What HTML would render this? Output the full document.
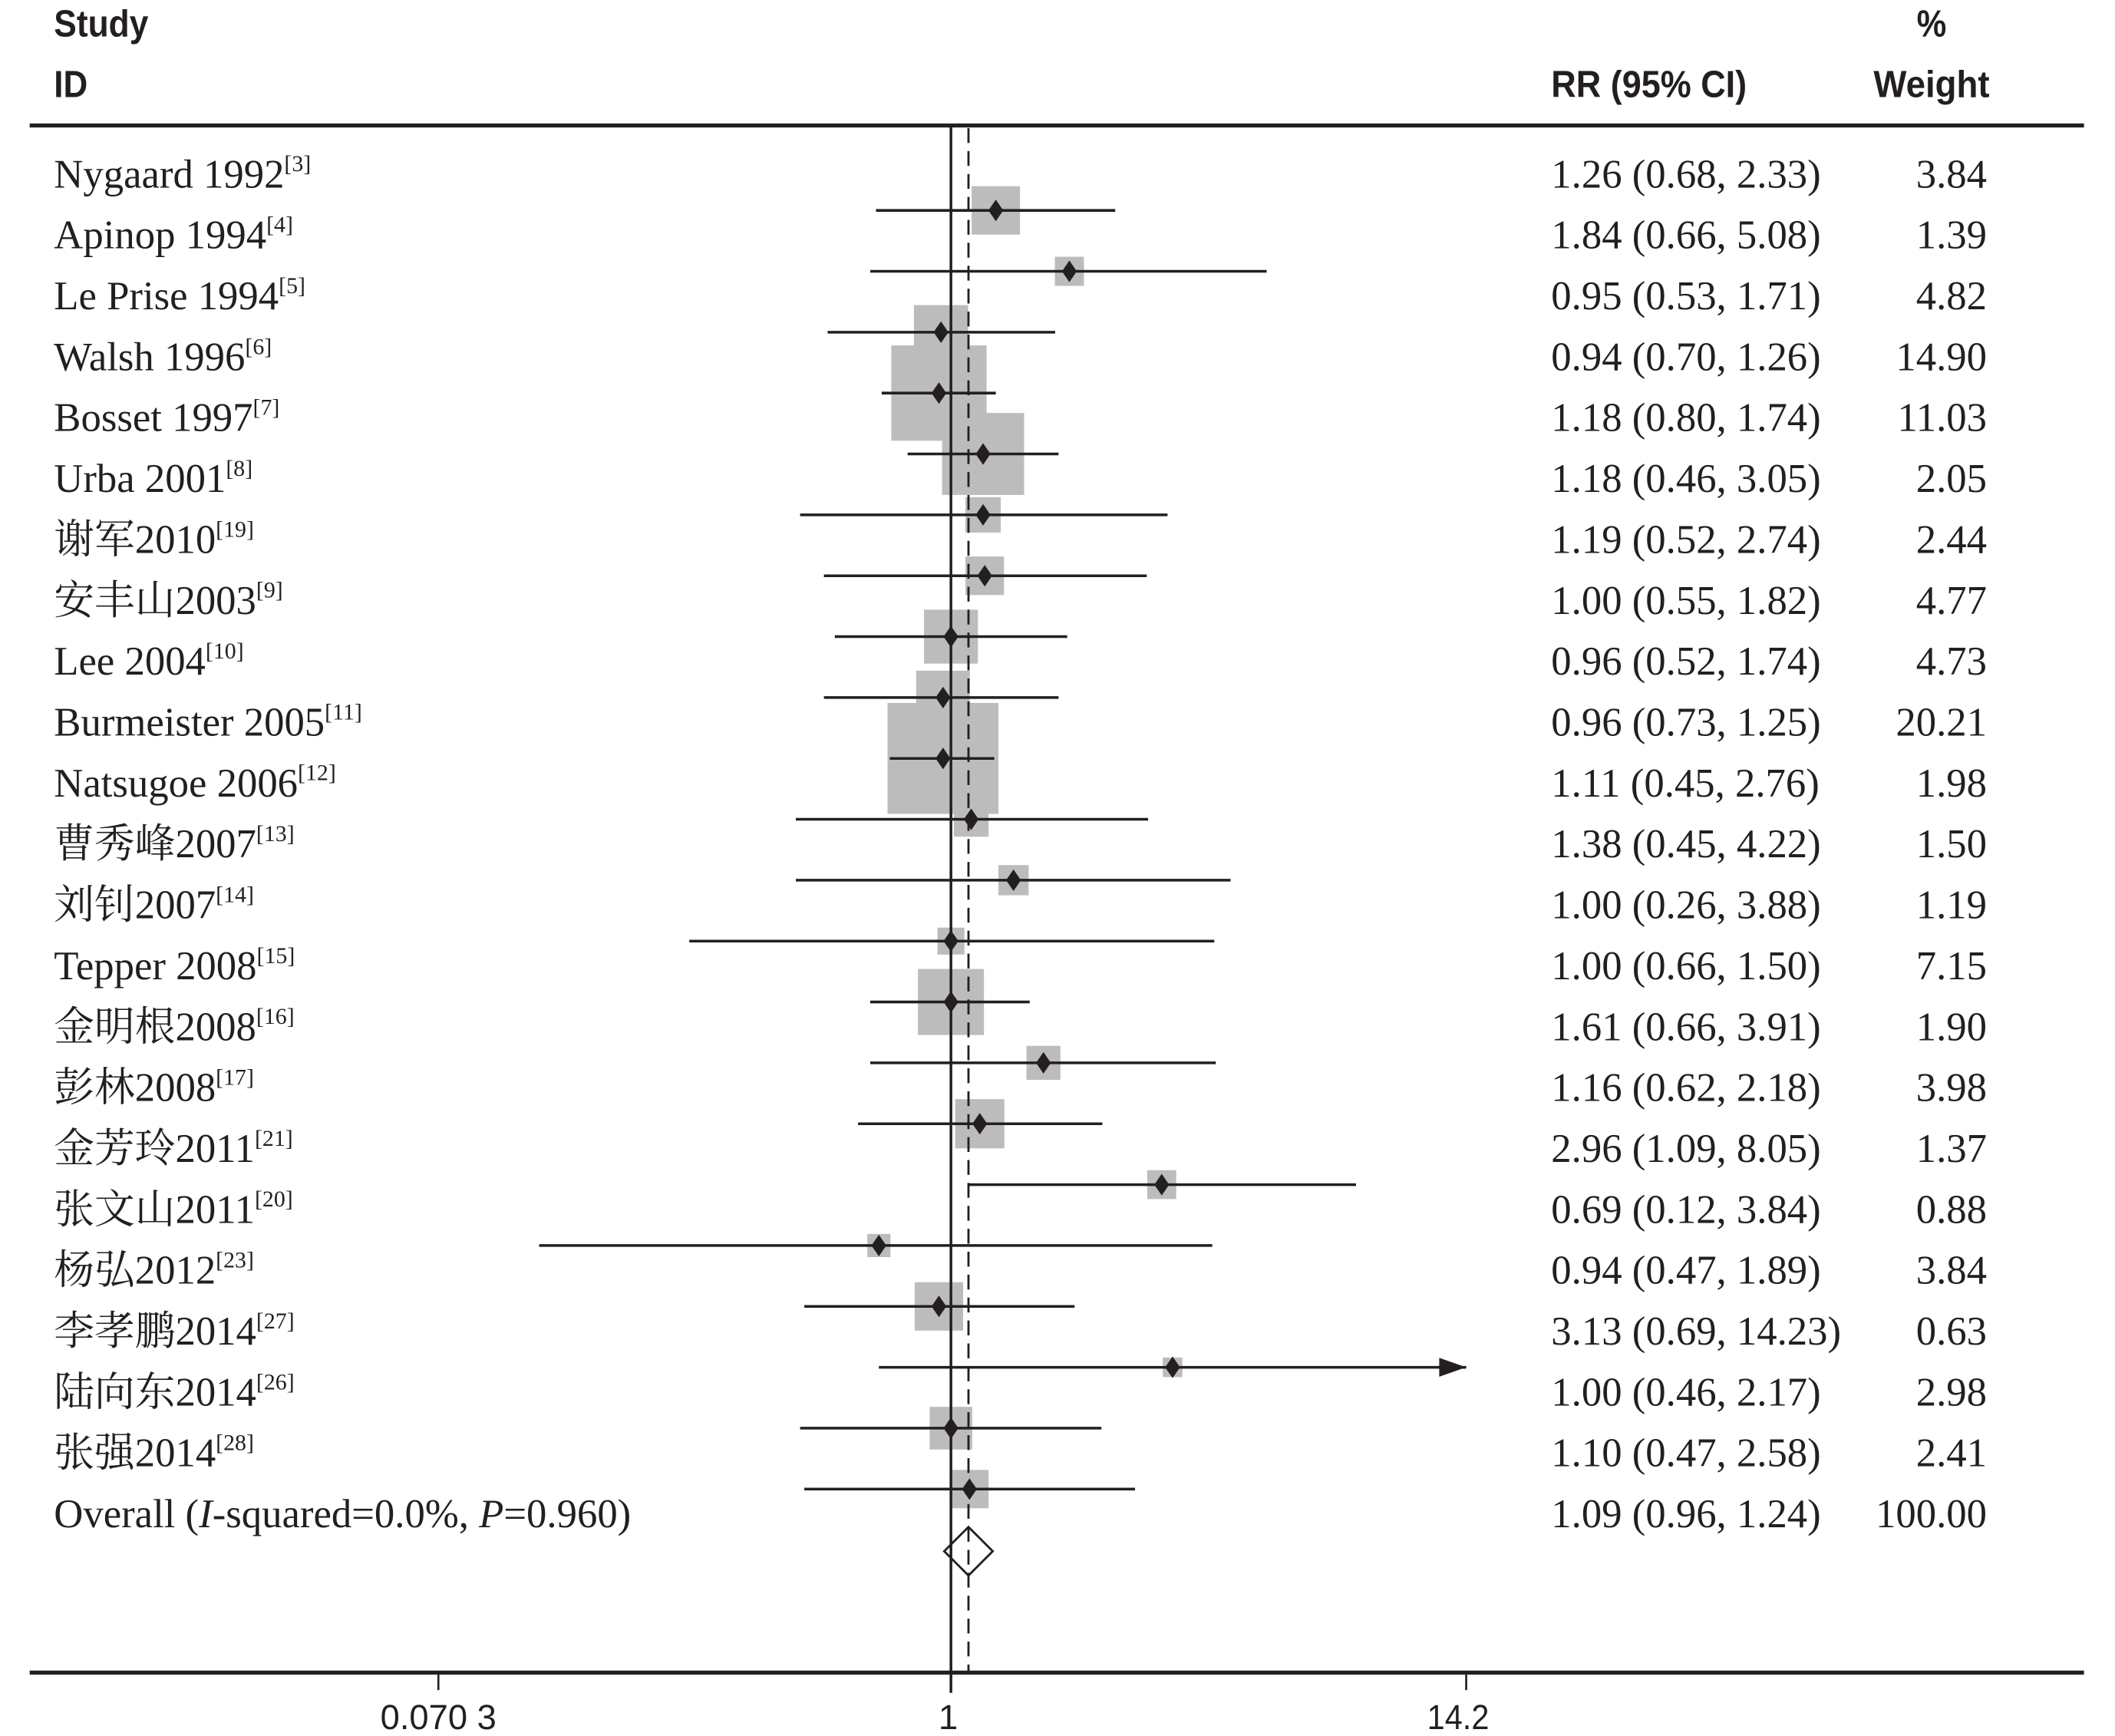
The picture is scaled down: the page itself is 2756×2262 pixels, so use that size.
<!DOCTYPE html>
<html><head><meta charset="utf-8"><style>
html,body{margin:0;padding:0;background:#fff;}
svg{display:block;}
.ser{font-family:"Liberation Serif","Noto Serif CJK SC",serif;fill:#231f20;}
.hd{font-family:"Liberation Sans","Noto Sans CJK SC",sans-serif;font-weight:bold;fill:#231f20;}
.ax{font-family:"Liberation Sans",sans-serif;fill:#231f20;}
</style></head><body>
<svg id="s" width="2756" height="2262" viewBox="0 0 1568 1287" preserveAspectRatio="none" xmlns="http://www.w3.org/2000/svg">
<rect width="1568" height="1287" fill="#fff"/>
<g id="boxes"></g>
<line x1="705" y1="93" x2="705" y2="1255" stroke="#231f20" stroke-width="2"/>
<line x1="718" y1="95" x2="718" y2="1240" stroke="#231f20" stroke-width="1.6" stroke-dasharray="11,6"/>
<g id="lines"></g>
<text class="hd" x="40" y="27" font-size="28" textLength="70" lengthAdjust="spacingAndGlyphs">Study</text>
<text class="hd" x="40" y="72" font-size="28" textLength="25" lengthAdjust="spacingAndGlyphs">ID</text>
<text class="hd" x="1150" y="72" font-size="28" textLength="145" lengthAdjust="spacingAndGlyphs">RR (95% CI)</text>
<text class="hd" x="1421" y="27" font-size="28" textLength="22" lengthAdjust="spacingAndGlyphs">%</text>
<text class="hd" x="1389" y="72" font-size="28" textLength="86" lengthAdjust="spacingAndGlyphs">Weight</text>
<line x1="22" y1="93" x2="1545" y2="93" stroke="#231f20" stroke-width="3"/>
<line x1="22" y1="1240" x2="1545" y2="1240" stroke="#231f20" stroke-width="3"/>
<line x1="325" y1="1240" x2="325" y2="1253" stroke="#231f20" stroke-width="1.5"/>
<line x1="1087" y1="1240" x2="1087" y2="1253" stroke="#231f20" stroke-width="1.5"/>
<text class="ax" x="325" y="1282" font-size="26" text-anchor="middle" textLength="86" lengthAdjust="spacingAndGlyphs">0.070 3</text>
<text class="ax" x="703" y="1282" font-size="26" text-anchor="middle">1</text>
<text class="ax" x="1081" y="1282" font-size="26" text-anchor="middle" textLength="46" lengthAdjust="spacingAndGlyphs">14.2</text>
<polygon points="718,1132 736,1150 718,1168 700,1150" fill="none" stroke="#231f20" stroke-width="1.6"/>
<g id="txt"></g>
</svg>
<script>
var d=[
["Nygaard 1992","3",1.26,0.68,2.33,"3.84"],
["Apinop 1994","4",1.84,0.66,5.08,"1.39"],
["Le Prise 1994","5",0.95,0.53,1.71,"4.82"],
["Walsh 1996","6",0.94,0.70,1.26,"14.90"],
["Bosset 1997","7",1.18,0.80,1.74,"11.03"],
["Urba 2001","8",1.18,0.46,3.05,"2.05"],
["谢军2010","19",1.19,0.52,2.74,"2.44"],
["安丰山2003","9",1.00,0.55,1.82,"4.77"],
["Lee 2004","10",0.96,0.52,1.74,"4.73"],
["Burmeister 2005","11",0.96,0.73,1.25,"20.21"],
["Natsugoe 2006","12",1.11,0.45,2.76,"1.98"],
["曹秀峰2007","13",1.38,0.45,4.22,"1.50"],
["刘钊2007","14",1.00,0.26,3.88,"1.19"],
["Tepper 2008","15",1.00,0.66,1.50,"7.15"],
["金明根2008","16",1.61,0.66,3.91,"1.90"],
["彭林2008","17",1.16,0.62,2.18,"3.98"],
["金芳玲2011","21",2.96,1.09,8.05,"1.37"],
["张文山2011","20",0.69,0.12,3.84,"0.88"],
["杨弘2012","23",0.94,0.47,1.89,"3.84"],
["李孝鹏2014","27",3.13,0.69,14.23,"0.63"],
["陆向东2014","26",1.00,0.46,2.17,"2.98"],
["张强2014","28",1.10,0.47,2.58,"2.41"]];
function X(v){return 705+144*Math.log(v);}
function f(v){return v.toFixed(2);}
var B="",L="",T="";
d.forEach(function(r,i){
 var y=156+45.14*i, x=X(r[2]), s=18.3*Math.sqrt(parseFloat(r[5]));
 B+='<rect x="'+(x-s/2)+'" y="'+(y-s/2)+'" width="'+s+'" height="'+s+'" fill="#bcbcbc"/>';
 var hi=Math.min(X(r[4]),1087);
 L+='<line x1="'+X(r[3])+'" y1="'+y+'" x2="'+hi+'" y2="'+y+'" stroke="#231f20" stroke-width="2"/>';
 if(X(r[4])>1087) L+='<polygon points="1067,'+(y-7)+' 1087,'+y+' 1067,'+(y+7)+'" fill="#231f20"/>';
 L+='<polygon points="'+x+','+(y-8)+' '+(x+5.5)+','+y+' '+x+','+(y+8)+' '+(x-5.5)+','+y+'" fill="#231f20"/>';
 var by=139+45.15*i;
 T+='<text class="ser" x="40" y="'+by+'" font-size="30">'+r[0]+'<tspan font-size="17" dy="-12">['+r[1]+']</tspan></text>';
 T+='<text class="ser" x="1150" y="'+by+'" font-size="30">'+f(r[2])+' ('+f(r[3])+', '+f(r[4])+')</text>';
 T+='<text class="ser" x="1473" y="'+by+'" font-size="30" text-anchor="end">'+r[5]+'</text>';
});
var by=139+45.15*22;
T+='<text class="ser" x="40" y="'+by+'" font-size="30">Overall (<tspan font-style="italic">I</tspan>-squared=0.0%, <tspan font-style="italic">P</tspan>=0.960)</text>';
T+='<text class="ser" x="1150" y="'+by+'" font-size="30">1.09 (0.96, 1.24)</text>';
T+='<text class="ser" x="1473" y="'+by+'" font-size="30" text-anchor="end">100.00</text>';
document.getElementById("boxes").innerHTML=B;
document.getElementById("lines").innerHTML=L;
document.getElementById("txt").innerHTML=T;
</script>
</body></html>
